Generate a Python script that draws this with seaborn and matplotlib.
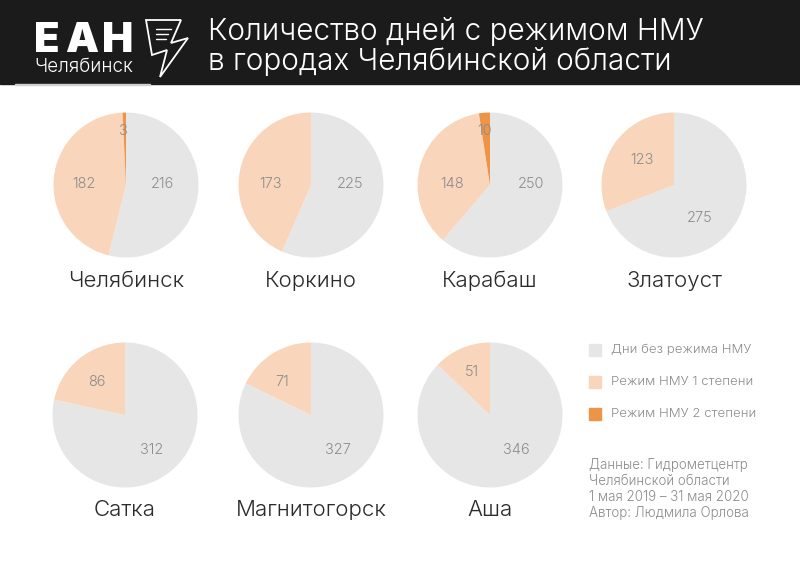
import matplotlib
matplotlib.use("Agg")
import matplotlib.pyplot as plt
from matplotlib.patches import Rectangle, Polygon
from matplotlib.lines import Line2D
import seaborn as sns

# --- datos ---
cities = ["Челябинск", "Коркино", "Карабаш", "Златоуст", "Сатка", "Магнитогорск", "Аша"]
no_regime = [216, 225, 250, 275, 312, 327, 346]
regime_1 = [182, 173, 148, 123, 86, 71, 51]
regime_2 = [3, 0, 10, 0, 0, 0, 0]

legend_labels = ["Дни без режима НМУ", "Режим НМУ 1 степени", "Режим НМУ 2 степени"]
title_lines = ["Количество дней с режимом НМУ", "в городах Челябинской области"]
source_lines = ["Данные: Гидрометцентр", "Челябинской области", "1 мая 2019 – 31 мая 2020", "Автор: Людмила Орлова"]

W, H = 800, 565
palette = sns.color_palette(["#e6e6e6", "#f9d5bb", "#ee9447"])
TEXT = "#8c8c8c"
DARK = "#2b2b2b"
HEADER = "#1b1b1b"

# centros de las tartas en pixeles
centers = [(126, 185), (311, 185), (490, 185), (674, 185), (125, 415), (311, 415), (490, 415)]
label_y = [281, 281, 281, 281, 510, 510, 510]
RADIUS = 72.5

# posicion de cada etiqueta en pixeles: sin regimen, grado 1, grado 2
value_pos = [
    [(162, 184), (84, 184), (123, 131)],
    [(350, 184), (270, 184), None],
    [(531, 184), (452, 184), (484, 131)],
    [(700, 218), (642, 160), None],
    [(152, 450), (97, 382), None],
    [(338, 450), (282, 382), None],
    [(516, 450), (472, 372), None],
]

sns.set_theme(style="white")
plt.rcParams["font.family"] = ["Inter", "DejaVu Sans"]

fig = plt.figure(figsize=(W / 100, H / 100), dpi=100)
fig.patch.set_facecolor("white")


def px(x, y):
    return x / W, 1 - y / H


# cabecera
fig.add_artist(Rectangle((0, 1 - 84 / H), 1, 84 / H, transform=fig.transFigure, color=HEADER, zorder=0))
fig.add_artist(Rectangle((15 / W, 1 - 85 / H), 135 / W, 1 / H, transform=fig.transFigure, color="#d0d0d0", zorder=0))

for i, line in enumerate(title_lines):
    x, y = px(208, 31 + i * 30)
    fig.text(x, y, line, color="white", fontsize=21.4, fontweight=300, ha="left", va="center")

# logo: letras por separado para abrir el espaciado
for letter, lx in [("Е", 47), ("А", 81.5), ("Н", 118)]:
    x, y = px(lx, 41)
    fig.text(x, y, letter, color="white", fontsize=30, fontweight="black", ha="center", va="center")
x, y = px(84, 67)
fig.text(x, y, "Челябинск", color="white", fontsize=13.6, fontweight=300, ha="center", va="center")

# icono de la hoja con rayo
icon = [(146, 20), (181, 20), (171, 43), (188, 38), (160, 77), (167, 50), (152, 55)]
fig.add_artist(Polygon([px(a, b) for a, b in icon], closed=True, fill=False, edgecolor="white",
                       linewidth=1.3, transform=fig.transFigure))
for yy, x_end in [(29, 171), (34, 168), (39, 166)]:
    fig.add_artist(Line2D([px(156, yy)[0], px(x_end, yy)[0]], [px(156, yy)[1]] * 2, color="white",
                          linewidth=1, transform=fig.transFigure))

# tartas
for i, city in enumerate(cities):
    cx, cy = centers[i]
    ax = fig.add_axes([(cx - RADIUS) / W, 1 - (cy + RADIUS) / H, 2 * RADIUS / W, 2 * RADIUS / H])
    values = [no_regime[i], regime_1[i], regime_2[i]]
    keep = [j for j, v in enumerate(values) if v > 0]
    ax.pie(
        [values[j] for j in keep],
        colors=[palette[j] for j in keep],
        startangle=90,
        counterclock=False,
        radius=1,
        wedgeprops={"linewidth": 0},
    )
    ax.set_xlim(-1, 1)
    ax.set_ylim(-1, 1)
    for j in keep:
        x, y = px(*value_pos[i][j])
        fig.text(x, y, str(values[j]), color=TEXT, fontsize=10.5, fontweight=300,
                 ha="center", va="center", zorder=5)
    x, y = px(cx, label_y[i])
    fig.text(x, y, city, color=DARK, fontsize=16, fontweight=300, ha="center", va="center")

# leyenda
for i, label in enumerate(legend_labels):
    yy = 350 + i * 32
    fig.add_artist(Rectangle(px(589, yy + 6), 12 / W, 12 / H, transform=fig.transFigure, color=palette[i]))
    x, y = px(611, yy)
    fig.text(x, y, label, color=TEXT, fontsize=9.5, fontweight=300, ha="left", va="center")

for i, line in enumerate(source_lines):
    x, y = px(589, 464.5 + i * 16.2)
    fig.text(x, y, line, color=TEXT, fontsize=9.6, fontweight=300, ha="left", va="center")

fig.savefig("out.png", dpi=100)
plt.close(fig)
